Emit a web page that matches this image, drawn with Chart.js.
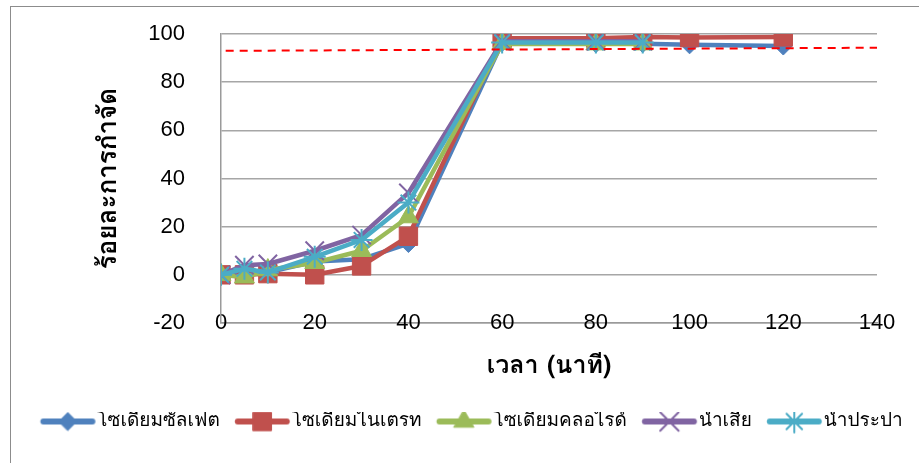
<!DOCTYPE html>
<html lang="th">
<head>
<meta charset="UTF-8">
<title>ร้อยละการกำจัด</title>
<script src="https://cdn.jsdelivr.net/npm/chart.js"></script>
<style>
body{margin:0;background:#fff;overflow:hidden;}
#wrap{position:relative;width:919px;height:463px;}
#frame{position:absolute;left:10px;top:6px;width:940px;height:480px;border:1px solid #8c8c8c;box-sizing:border-box;}
canvas{position:absolute;left:0;top:0;}
</style>
</head>
<body>
<div id="wrap">
<div id="frame"></div>
<canvas id="chart" width="919" height="463"></canvas>
</div>

<script>
// เวลา (นาที)
const timeLong = [0, 5, 10, 20, 30, 40, 60, 80, 90, 100, 120];
const timeShort = [0, 5, 10, 20, 30, 40, 60, 80, 90];

// ร้อยละการกำจัด
const sodiumSulfate  = [0, 1, 1, 5.5, 6.5, 13, 96.5, 96, 96, 95.5, 95];
const sodiumNitrate  = [0, 0, 0.5, 0, 3.7, 16, 98.2, 98.2, 98.8, 98.5, 98.8];
const sodiumChloride = [0, -1, 2, 5, 10, 24, 96, 95.8, 95.8];
const wasteWater     = [0, 4, 4.5, 10, 16.5, 34, 97, 97, 97];
const tapWater       = [0, 2.5, 1, 7.5, 14.5, 30, 96.5, 96.5, 96.5];

// เส้นประสีแดง
const refX = [1, 140];
const refY = [93, 94.3];

const xTickValues = [0, 20, 40, 60, 80, 100, 120, 140];
const yTickValues = [-20, 0, 20, 40, 60, 80, 100];

const seriesNames = ['โซเดียมซัลเฟต', 'โซเดียมไนเตรท', 'โซเดียมคลอไรด์', 'น้ำเสีย', 'น้ำประปา'];

const thaiFont = 'Loma, "Noto Sans Thai", Tahoma, "DejaVu Sans", sans-serif';
const numFont = '"Liberation Sans", Arial, sans-serif';

const LEG_FONT = 19;
const LEG_BOX = 62.5;
const PAD_LEFT = 9;

function toPoints(xs, ys){
  return ys.map((y, i) => ({x: xs[i], y: y}));
}

function makeSeries(name, xs, ys, color, style, radius, bw, order){
  return {
    label: name,
    data: toPoints(xs, ys),
    borderColor: color,
    backgroundColor: color,
    borderWidth: 4.5,
    borderJoinStyle: 'round',
    borderCapStyle: 'round',
    tension: 0,
    pointStyle: style,
    pointRadius: radius,
    pointHoverRadius: radius,
    pointBorderWidth: bw,
    pointBorderColor: color,
    pointBackgroundColor: color,
    order: order
  };
}

const datasets = [
  makeSeries(seriesNames[0], timeLong, sodiumSulfate, '#4f81bd', 'rectRot', 9, 1, 5),
  makeSeries(seriesNames[1], timeLong, sodiumNitrate, '#c0504d', 'rect', 13, 1, 4),
  makeSeries(seriesNames[2], timeShort, sodiumChloride, '#9bbb59', 'triangle', 11.5, 1, 3),
  makeSeries(seriesNames[3], timeShort, wasteWater, '#8064a2', 'crossRot', 13, 2, 2),
  makeSeries(seriesNames[4], timeShort, tapWater, '#4bacc6', 'star', 11, 2, 1),
  {
    label: 'ref',
    data: toPoints(refX, refY),
    borderColor: '#ff0000',
    borderWidth: 2,
    borderDash: [8, 6],
    pointRadius: 0,
    pointHoverRadius: 0,
    order: 0
  }
];

// ไอคอนตำนาน: เส้น + เครื่องหมาย (ภาพกว้าง 84 วางกึ่งกลางที่ x + LEG_BOX/2)
function legendIcon(ds){
  const c = document.createElement('canvas');
  c.width = 84; c.height = 34;
  const off = 42 - LEG_BOX / 2;
  const ls = 15 + off, le = 70 + off;
  const g = c.getContext('2d');
  g.strokeStyle = ds.borderColor;
  g.lineWidth = 6;
  g.lineCap = 'round';
  g.beginPath();
  g.moveTo(ls + 3, 17);
  g.lineTo(le - 3, 17);
  g.stroke();
  g.fillStyle = ds.pointBackgroundColor;
  g.strokeStyle = ds.pointBorderColor;
  g.lineWidth = ds.pointBorderWidth;
  Chart.helpers.drawPoint(g, {pointStyle: ds.pointStyle, radius: ds.pointRadius, rotation: 0, borderWidth: ds.pointBorderWidth}, (ls + le) / 2, 17);
  return c;
}

const ctx = document.getElementById('chart');

new Chart(ctx, {
  type: 'line',
  data: {datasets: datasets},
  options: {
    responsive: false,
    animation: false,
    layout: {padding: {left: PAD_LEFT, top: 34, right: 0, bottom: 22}},
    plugins: {
      tooltip: {enabled: false},
      legend: {
        position: 'bottom',
        labels: {
          usePointStyle: true,
          pointStyleWidth: LEG_BOX,
          boxHeight: 22,
          padding: 0,
          color: '#000',
          font: {family: thaiFont, size: LEG_FONT},
          generateLabels: (chart) => chart.data.datasets
            .map((ds, i) => ({
              text: ds.label,
              datasetIndex: i,
              pointStyle: legendIcon(ds),
              fillStyle: ds.borderColor,
              strokeStyle: ds.borderColor,
              lineWidth: 0,
              hidden: false,
              fontColor: '#000'
            }))
            .filter(item => item.text !== 'ref')
        }
      }
    },
    scales: {
      x: {
        type: 'linear',
        min: 0, max: 140,
        afterBuildTicks: (s) => { s.ticks = xTickValues.map(v => ({value: v})); },
        afterFit: (s) => { s.height = 89; },
        grid: {display: false, drawTicks: false},
        border: {display: true, color: '#9a9a9a', width: 1.5},
        ticks: {mirror: true, padding: -13, color: '#000', font: {family: numFont, size: 22}},
        title: {
          display: true,
          text: 'เวลา (นาที)',
          color: '#000',
          font: {family: thaiFont, size: 25, weight: 'bold'},
          padding: {top: 0, bottom: 30}
        }
      },
      y: {
        min: -20, max: 100,
        afterBuildTicks: (s) => { s.ticks = yTickValues.map(v => ({value: v})); },
        afterFit: (s) => { s.width = 221 - PAD_LEFT; s.paddingTop = 0; s.paddingBottom = 0; },
        grid: {color: '#a6a6a6', lineWidth: 1.5, drawTicks: false},
        border: {display: true, color: '#9a9a9a', width: 1.5},
        ticks: {padding: 36, color: '#000', font: {family: numFont, size: 22}},
        title: {
          display: true,
          text: 'ร้อยละการกำจัด',
          color: '#000',
          font: {family: thaiFont, size: 26, weight: 'bold'},
          padding: {top: 86, bottom: 0}
        }
      },
      yRight: {
        position: 'right',
        min: 0, max: 1,
        afterFit: (s) => { s.width = 42; s.paddingTop = 0; s.paddingBottom = 0; },
        grid: {display: false},
        border: {display: false},
        ticks: {display: false}
      }
    }
  }
});
</script>
</body>
</html>
